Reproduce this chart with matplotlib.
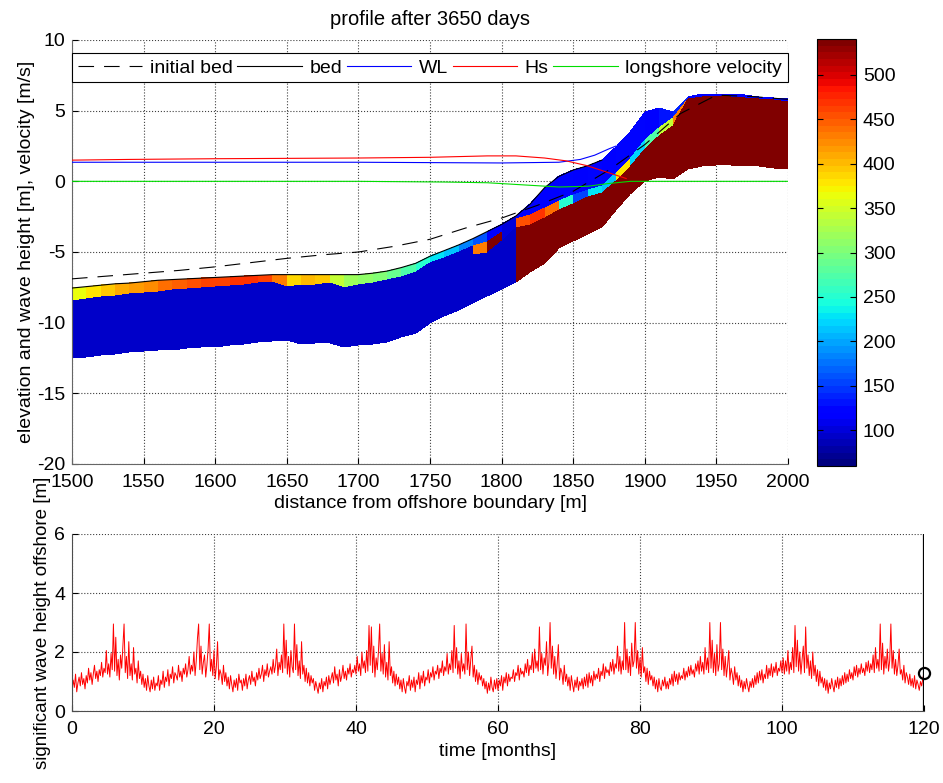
import numpy as np
import matplotlib
matplotlib.use('Agg')
import matplotlib.pyplot as plt

plt.rcParams['font.family'] = ['Liberation Sans', 'DejaVu Sans']
plt.rcParams['font.size'] = 14
plt.rcParams['axes.unicode_minus'] = False

# Cross-shore grid (cell edges every 10 m)
x_edges = np.arange(1500, 2001, 10)

# Layer boundaries at the cell edges: bed surface, bottom of surface layer,
# bottom of middle layer, base of the active profile
z_bed = [-7.55, -7.45, -7.35, -7.25, -7.20, -7.10, -7.00, -6.95, -6.90, -6.85,
         -6.80, -6.75, -6.70, -6.65, -6.60, -6.60, -6.60, -6.60, -6.60, -6.60,
         -6.60, -6.50, -6.35, -6.10, -5.80, -5.30, -4.90, -4.50, -4.05, -3.55,
         -3.05, -2.45, -1.60, -0.45, 0.35, 0.80, 1.10, 1.50, 2.40, 3.50,
         4.90, 5.20, 4.90, 6.00, 6.15, 6.20, 6.15, 6.10, 6.00, 5.90, 5.80]
z_top = [-8.50, -8.35, -8.20, -8.10, -8.00, -7.90, -7.80, -7.70, -7.65, -7.55,
         -7.50, -7.40, -7.30, -7.20, -7.10, -7.50, -7.35, -7.30, -7.20, -7.55,
         -7.35, -7.20, -7.00, -6.80, -6.40, -5.80, -5.40, -5.00, -4.60, -4.30,
         -3.60, -2.70, -2.35, -1.90, -1.40, -1.00, -0.60, -0.30, 0.60, 1.60,
         2.90, 3.80, 4.50, 5.82, 5.97, 6.02, 5.97, 5.92, 5.82, 5.72, 5.62]
z_mid = [-9.50, -9.40, -9.30, -9.20, -9.10, -9.00, -8.90, -8.80, -8.70, -8.60,
         -8.50, -8.40, -8.30, -8.20, -8.10, -8.50, -8.40, -8.40, -8.30, -8.60,
         -8.50, -8.40, -8.30, -8.10, -7.80, -7.40, -7.00, -6.60, -5.20, -5.10,
         -4.20, -3.30, -3.10, -2.60, -2.00, -1.60, -1.10, -0.80, 0.00, 1.00,
         2.30, 3.20, 3.90, 5.82, 5.97, 6.02, 5.97, 5.92, 5.82, 5.72, 5.62]
z_base = [-12.50, -12.40, -12.30, -12.20, -12.10, -12.00, -11.95, -11.90, -11.80, -11.75,
          -11.70, -11.60, -11.50, -11.40, -11.30, -11.25, -11.50, -11.45, -11.45, -11.70,
          -11.60, -11.50, -11.40, -11.00, -10.70, -10.00, -9.50, -9.10, -8.60, -8.10,
          -7.60, -7.10, -6.40, -5.80, -4.70, -4.20, -3.70, -3.20, -2.00, -0.90,
          0.00, 0.30, 0.20, 0.90, 1.10, 1.15, 1.15, 1.10, 1.05, 0.95, 0.90]

# Grain size in each cell (surface, middle, deep layer)
d_surface = [360, 375, 390, 405, 415, 425, 435, 445, 455, 460,
             462, 465, 465, 460, 430, 385, 400, 390, 340, 320,
             310, 300, 285, 270, 250, 230, 210, 180, 160, 115,
             100, 115, 115, 115, 120, 115, 120, 115, 120, 125,
             115, 130, 140, 120, 115, 115, 115, 115, 115, 115]
d_middle = [95, 95, 95, 95, 95, 95, 95, 95, 95, 95,
            95, 95, 95, 95, 95, 95, 95, 95, 95, 95,
            95, 95, 95, 95, 95, 95, 95, 95, 430, 540,
            100, 455, 470, 440, 250, 150, 230, 210, 380, 220,
            270, 340, 430, 540, 540, 540, 540, 540, 540, 540]
d_deep = [95] * 31 + [540] * 19

# Initial profile
x_init = [1500, 1525, 1550, 1575, 1600, 1625, 1650, 1675, 1700, 1725, 1750,
          1775, 1800, 1825, 1850, 1875, 1900, 1925, 1950, 1975, 2000]
z_init = [-6.90, -6.70, -6.50, -6.30, -6.05, -5.75, -5.45, -5.20, -5.00, -4.60, -4.10,
          -3.30, -2.60, -1.70, -0.70, 0.80, 2.60, 4.80, 6.10, 6.00, 5.80]

# Water level, wave height and longshore current along the profile
x_wl = [1500, 1600, 1700, 1800, 1840, 1855, 1865, 1875, 1880]
wl = [1.35, 1.35, 1.35, 1.30, 1.35, 1.55, 1.85, 2.30, 2.50]
x_hs = [1500, 1540, 1600, 1700, 1750, 1790, 1810, 1830, 1845, 1860, 1875, 1887]
hs = [1.50, 1.55, 1.60, 1.65, 1.70, 1.80, 1.80, 1.65, 1.45, 1.10, 0.60, 0.20]
x_v = [1500, 1700, 1760, 1790, 1815, 1840, 1860, 1875, 1890, 2000]
v = [0.0, 0.0, -0.05, -0.10, -0.25, -0.40, -0.35, -0.15, 0.0, 0.0]

# Offshore significant wave height, 6 values per month, one list per year
hs_y1 = [0.72, 1.05, 0.80, 1.25, 0.65, 0.95, 1.15, 0.85, 1.30, 0.90, 1.10, 0.75,
         1.20, 0.95, 1.45, 1.05, 1.30, 0.90, 1.25, 1.55, 1.10, 1.35, 1.00, 1.40,
         1.20, 1.65, 1.15, 1.45, 1.30, 2.05, 1.25, 1.60, 1.15, 1.95, 1.40, 2.95,
         1.35, 2.50, 1.20, 1.75, 1.05, 1.90, 1.45, 2.20, 2.95, 1.30, 1.85, 1.10,
         2.35, 1.20, 1.60, 1.05, 2.15, 1.25, 1.45, 0.95, 1.70, 1.10, 1.35, 0.90,
         1.25, 0.80, 1.10, 0.70, 1.20, 0.85, 0.65, 1.05, 0.75, 1.15, 0.70, 0.95]
hs_y2 = [0.85, 1.20, 0.70, 1.05, 0.90, 1.35, 0.80, 1.15, 1.00, 1.40, 0.85, 1.25,
         1.10, 1.50, 0.95, 1.30, 1.20, 1.05, 1.55, 1.15, 1.35, 1.00, 1.45, 1.25,
         1.60, 1.15, 1.40, 1.85, 1.25, 1.55, 1.35, 2.00, 1.20, 1.70, 2.45, 2.95,
         1.40, 2.20, 1.25, 1.65, 1.90, 1.15, 1.55, 2.10, 2.95, 1.35, 1.75, 1.20,
         2.05, 1.10, 1.50, 2.35, 1.05, 1.40, 1.25, 0.90, 1.55, 1.00, 1.30, 0.85,
         1.15, 0.75, 1.20, 0.90, 0.65, 1.05, 0.80, 1.10, 0.70, 1.25, 0.95, 1.05]
hs_y3 = [0.70, 1.10, 0.85, 1.25, 0.75, 1.05, 1.20, 0.90, 1.35, 1.00, 1.15, 0.85,
         1.30, 1.05, 1.45, 1.10, 1.25, 1.55, 1.00, 1.40, 1.20, 1.60, 1.15, 1.35,
         1.50, 1.25, 1.75, 1.30, 1.55, 2.10, 1.20, 1.65, 1.40, 1.90, 1.30, 2.95,
         1.45, 2.40, 1.25, 1.85, 1.15, 2.05, 1.50, 1.30, 2.95, 1.40, 2.25, 1.20,
         1.70, 1.10, 2.35, 1.25, 1.55, 1.00, 1.45, 0.95, 1.30, 0.85, 1.20, 0.95,
         1.10, 0.70, 1.00, 0.80, 0.60, 0.95, 0.75, 1.10, 0.65, 1.00, 0.85, 1.15]
hs_y4 = [0.75, 1.20, 0.90, 1.10, 1.30, 0.95, 1.50, 1.05, 1.25, 0.85, 1.40, 1.00,
         1.20, 1.55, 1.10, 1.35, 1.05, 1.45, 1.25, 1.60, 1.15, 1.40, 1.30, 1.55,
         1.25, 1.85, 1.35, 1.60, 1.20, 2.00, 1.45, 1.70, 1.30, 2.05, 1.35, 2.90,
         1.55, 2.85, 1.30, 2.20, 1.15, 1.80, 1.40, 2.05, 2.95, 1.35, 1.95, 1.25,
         2.25, 1.15, 1.65, 1.05, 2.35, 1.20, 1.50, 0.95, 1.35, 0.85, 1.25, 0.90,
         1.15, 0.75, 1.05, 0.65, 1.10, 0.80, 0.60, 1.00, 0.85, 1.20, 0.70, 1.05]
hs_y5 = [0.80, 1.15, 0.65, 1.05, 0.90, 1.30, 0.75, 1.20, 0.95, 1.35, 0.85, 1.15,
         1.05, 1.40, 0.95, 1.30, 1.15, 1.50, 1.05, 1.35, 1.25, 1.55, 1.10, 1.45,
         1.30, 1.70, 1.20, 1.50, 1.35, 1.95, 1.25, 1.60, 1.40, 2.05, 1.30, 2.90,
         1.45, 2.15, 1.25, 1.70, 1.10, 1.95, 1.35, 1.60, 1.25, 2.95, 1.40, 2.00,
         1.20, 1.75, 2.20, 1.15, 1.55, 1.00, 1.40, 0.90, 1.30, 1.05, 1.20, 0.85,
         1.10, 0.75, 1.00, 0.60, 0.95, 0.70, 1.15, 0.80, 0.65, 1.05, 0.75, 1.10]
hs_y6 = [0.70, 1.05, 0.85, 1.20, 0.70, 1.15, 0.95, 1.30, 0.85, 1.25, 1.00, 1.15,
         1.10, 1.40, 1.00, 1.30, 1.20, 1.55, 1.05, 1.45, 1.25, 1.35, 1.15, 1.60,
         1.30, 1.75, 1.20, 1.55, 1.40, 1.95, 1.30, 2.10, 1.45, 1.70, 1.35, 2.85,
         1.40, 1.95, 1.25, 1.80, 1.55, 2.35, 1.20, 1.65, 3.00, 1.45, 2.20, 1.25,
         1.85, 1.10, 1.60, 2.25, 1.05, 1.45, 1.30, 0.90, 1.55, 1.00, 1.25, 0.85,
         1.15, 0.70, 1.20, 0.90, 0.65, 1.05, 0.80, 1.15, 0.70, 1.00, 0.85, 1.10]
hs_y7 = [0.75, 1.15, 0.85, 1.25, 0.80, 1.30, 0.95, 1.20, 0.85, 1.35, 1.05, 1.25,
         1.10, 1.45, 1.00, 1.35, 1.20, 1.60, 1.10, 1.50, 1.30, 1.40, 1.20, 1.65,
         1.35, 1.75, 1.25, 1.60, 1.45, 2.20, 1.35, 1.85, 1.25, 1.70, 1.40, 3.00,
         1.40, 2.10, 1.30, 1.85, 1.20, 2.30, 1.50, 1.70, 3.00, 1.45, 2.05, 1.25,
         1.80, 1.15, 2.15, 1.30, 1.50, 1.00, 1.45, 0.90, 1.35, 1.05, 1.20, 0.85,
         1.15, 0.75, 1.05, 0.65, 1.10, 0.80, 0.70, 1.05, 0.85, 1.15, 0.75, 1.00]
hs_y8 = [0.75, 1.10, 0.90, 1.25, 0.85, 1.35, 1.00, 1.25, 0.90, 1.30, 1.05, 1.20,
         1.10, 1.45, 1.05, 1.35, 1.15, 1.50, 1.20, 1.55, 1.25, 1.40, 1.15, 1.60,
         1.35, 1.70, 1.25, 1.85, 1.35, 1.65, 1.25, 2.15, 1.40, 1.80, 1.30, 3.00,
         1.45, 2.40, 1.30, 1.95, 1.20, 2.25, 1.35, 1.60, 3.00, 1.40, 2.10, 1.20,
         1.85, 1.15, 1.55, 2.05, 1.05, 1.45, 1.25, 0.90, 1.50, 1.05, 1.30, 0.85,
         1.20, 0.80, 1.05, 0.65, 1.00, 0.75, 1.10, 0.85, 0.65, 1.00, 0.80, 1.10]
hs_y9 = [0.80, 1.20, 0.90, 1.30, 0.95, 1.35, 1.05, 1.40, 0.95, 1.25, 1.10, 1.55,
         1.10, 1.45, 1.20, 1.60, 1.15, 1.50, 1.30, 1.65, 1.20, 1.45, 1.35, 1.70,
         1.30, 1.80, 1.25, 1.70, 1.35, 2.05, 1.25, 1.65, 1.40, 2.15, 1.30, 2.90,
         1.50, 2.40, 1.35, 2.00, 1.25, 1.75, 2.20, 1.30, 2.85, 1.45, 1.90, 1.20,
         1.70, 1.10, 2.00, 1.20, 1.55, 1.00, 1.40, 0.85, 1.35, 0.95, 1.15, 0.80,
         1.10, 0.70, 1.05, 0.60, 0.95, 0.75, 1.10, 0.85, 0.65, 1.05, 0.80, 1.15]
hs_y10 = [0.75, 1.10, 0.85, 1.20, 0.90, 1.30, 0.95, 1.25, 1.00, 1.40, 1.10, 1.30,
          1.05, 1.50, 1.20, 1.55, 1.15, 1.45, 1.25, 1.60, 1.30, 1.45, 1.20, 1.65,
          1.35, 1.70, 1.30, 1.60, 1.40, 1.90, 1.30, 2.15, 1.45, 1.75, 1.35, 2.95,
          1.40, 2.30, 1.25, 1.85, 1.45, 2.10, 1.35, 1.70, 2.95, 1.45, 2.05, 1.25,
          1.75, 1.20, 1.55, 2.10, 1.25, 1.40, 1.05, 1.55, 0.95, 1.30, 1.15, 0.90,
          1.25, 0.85, 1.10, 0.80, 1.20, 0.75, 1.05, 0.90, 0.70, 1.00, 0.85, 1.10]
hs_now = 1.30
t_now = 120

hs_off = np.concatenate([hs_y1, hs_y2, hs_y3, hs_y4, hs_y5, hs_y6, hs_y7,
                         hs_y8, hs_y9, hs_y10, [hs_now]])
t_months = np.arange(len(hs_off)) / 6.0

W, H = 943, 783
fig = plt.figure(figsize=(W / 100, H / 100), dpi=100)
ax1 = fig.add_axes([72 / W, 1 - 464 / H, 716 / W, 424 / H])
cax = fig.add_axes([817 / W, 1 - 466 / H, 39 / W, 427 / H])
ax2 = fig.add_axes([72 / W, 1 - 711 / H, 852 / W, 177 / H])

grid_kw = dict(color='0.25', linestyle=':', linewidth=0.8)

# Stratigraphy of the profile
X = np.tile(x_edges, (4, 1))
Y = np.array([z_bed, z_top, z_mid, z_base])
C = np.array([d_surface, d_middle, d_deep])
jet = plt.get_cmap('jet', 64)
pc = ax1.pcolormesh(X, Y, C, cmap=jet, vmin=60, vmax=540, shading='flat',
                    zorder=2, antialiased=False)

ax1.plot(x_init, z_init, color='k', lw=0.8, dashes=(14, 9), zorder=4, label='initial bed')
ax1.plot(x_edges[:38], z_bed[:38], color='k', lw=0.8, zorder=3, label='bed')
ax1.plot(x_wl, wl, color='b', lw=0.8, zorder=4, label='WL')
ax1.plot(x_hs, hs, color='r', lw=0.8, zorder=4, label='Hs')
ax1.plot(x_v, v, color='#00dd00', lw=0.8, zorder=4, label='longshore velocity')

ax1.set_xlim(1500, 2000)
ax1.set_ylim(-20, 10)
ax1.set_xticks(np.arange(1500, 2001, 50))
ax1.set_yticks(np.arange(-20, 11, 5))
ax1.grid(True, **grid_kw)
ax1.set_axisbelow(True)
for s in ['top', 'right']:
    ax1.spines[s].set_visible(False)
for s in ['left', 'bottom']:
    ax1.spines[s].set_color('0.4')
    ax1.spines[s].set_linewidth(0.8)
ax1.tick_params(direction='in', length=4, width=0.8)
ax1.tick_params(axis='x', pad=7)
ax1.tick_params(axis='y', pad=5)
ax1.set_title('profile after 3650 days', fontsize=14.5, pad=11)
ax1.set_xlabel('distance from offshore boundary [m]', labelpad=3)
ax1.set_ylabel('elevation and wave height [m], velocity [m/s]', labelpad=1)

leg = ax1.legend(loc='lower left', bbox_to_anchor=(0, 0.90, 1, 0.081), mode='expand',
                 ncol=5, borderaxespad=0, fancybox=False, framealpha=1,
                 edgecolor='k', handlelength=3.3, handletextpad=0.4,
                 borderpad=0.3, fontsize=14)
leg.get_frame().set_linewidth(0.8)
leg.set_zorder(10)

cb = fig.colorbar(pc, cax=cax, ticks=np.arange(100, 501, 50))
cb.outline.set_linewidth(0.8)
cax.tick_params(direction='in', length=4, width=0.8, left=True, right=True, pad=5)

# Offshore wave climate
ax2.plot(t_months, hs_off, color='r', lw=0.7)
ax2.axvline(t_now, color='k', lw=1.6)
ax2.plot(t_now, hs_now, 'o', ms=8, mfc='none', mec='k', mew=1.6, zorder=5, clip_on=False)
ax2.set_xlim(0, 120)
ax2.set_ylim(0, 6)
ax2.set_xticks(np.arange(0, 121, 20))
ax2.set_yticks(np.arange(0, 7, 2))
ax2.grid(True, **grid_kw)
ax2.set_axisbelow(True)
for s in ['top', 'right']:
    ax2.spines[s].set_visible(False)
for s in ['left', 'bottom']:
    ax2.spines[s].set_color('0.3')
    ax2.spines[s].set_linewidth(0.8)
ax2.tick_params(direction='in', length=4, width=0.8)
ax2.tick_params(axis='x', pad=7)
ax2.tick_params(axis='y', pad=5)
ax2.set_xlabel('time [months]', labelpad=4)
ax2.set_ylabel('significant wave height offshore [m]', fontsize=13.5, labelpad=2)

fig.savefig('out.png', dpi=100)
